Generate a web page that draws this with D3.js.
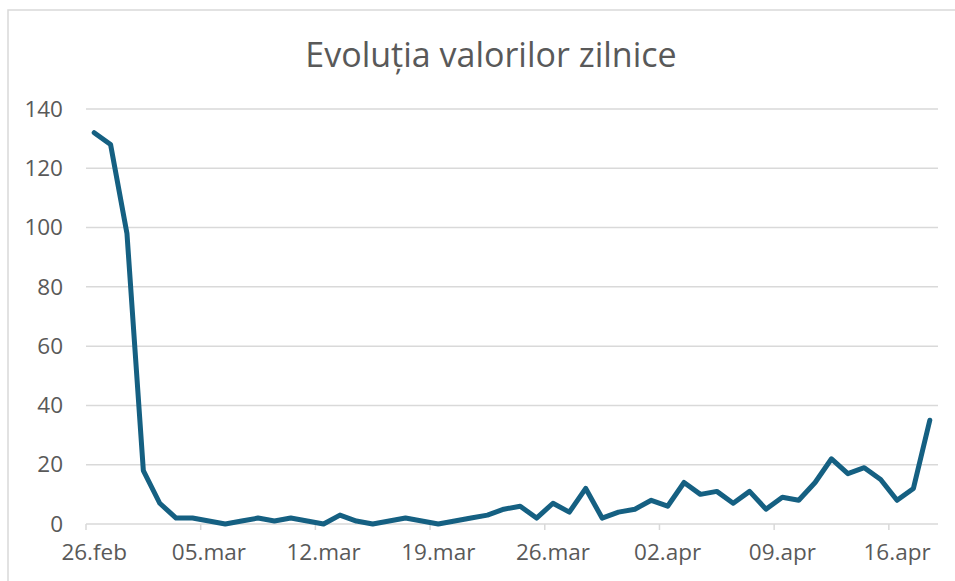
<!DOCTYPE html>
<html>
<head>
<meta charset="utf-8">
<script src="https://cdn.jsdelivr.net/npm/d3@7"></script>
<style>
  body { margin: 0; background: #fff; }
  svg { display: block; }
</style>
</head>
<body>
<div id="chart"></div>
<script>
// daily values, 26.feb - 18.apr
var values = [132, 128, 98, 18, 7, 2, 2, 1, 0, 1, 2, 1, 2, 1, 0, 3, 1, 0, 1, 2,
              1, 0, 1, 2, 3, 5, 6, 2, 7, 4, 12, 2, 4, 5, 8, 6, 14, 10, 11, 7,
              11, 5, 9, 8, 14, 22, 17, 19, 15, 8, 12, 35];
var days = d3.timeDay.range(new Date(2023, 1, 26), new Date(2023, 3, 19));
var tickLabels = ["26.feb", "05.mar", "12.mar", "19.mar", "26.mar", "02.apr", "09.apr", "16.apr"];
var yTicks = [0, 20, 40, 60, 80, 100, 120, 140];
var title = "Evoluția valorilor zilnice";

var width = 955, height = 581;
var margin = {left: 86, right: 17, top: 109, bottom: 57};
var font = "'Open Sans', sans-serif";
var grey = "#d9d9d9", textGrey = "#595959";

var svg = d3.select("#chart").append("svg")
    .attr("width", width)
    .attr("height", height);

// chart border
svg.append("rect")
    .attr("x", 8).attr("y", 10)
    .attr("width", width).attr("height", height)
    .attr("fill", "none")
    .attr("stroke", grey)
    .attr("stroke-width", 1.5);

var x = d3.scaleBand()
    .domain(days.map(function (d, i) { return i; }))
    .range([margin.left, width - margin.right])
    .paddingInner(0).paddingOuter(0);

var y = d3.scaleLinear()
    .domain([0, 140])
    .range([height - margin.bottom, margin.top]);

// gridlines
svg.append("g")
    .selectAll("line")
    .data(yTicks)
    .enter()
    .append("line")
    .attr("x1", margin.left).attr("x2", width - margin.right)
    .attr("y1", function (d) { return y(d); })
    .attr("y2", function (d) { return y(d); })
    .style("stroke", grey)
    .style("stroke-width", 1.5);

// y labels
var yAxis = svg.append("g")
    .attr("transform", "translate(" + (margin.left - 23) + ",0)")
    .call(d3.axisLeft(y).tickValues(yTicks).tickSize(0).tickPadding(0));
yAxis.select(".domain").remove();
yAxis.selectAll("text")
    .style("font-family", font)
    .style("font-size", "22.5px")
    .style("fill", textGrey);

// x axis: tick marks at band edges, labels at band centres
var tickIdx = tickLabels.map(function (d, i) { return i * 7; });

svg.append("g")
    .selectAll("line")
    .data(tickIdx)
    .enter()
    .append("line")
    .attr("x1", function (d) { return x(d); })
    .attr("x2", function (d) { return x(d); })
    .attr("y1", y(0)).attr("y2", y(0) + 6)
    .style("stroke", grey)
    .style("stroke-width", 1.5);

var xAxis = svg.append("g")
    .attr("transform", "translate(0," + y(0) + ")")
    .call(d3.axisBottom(x).tickValues(tickIdx).tickSize(0).tickPadding(20)
        .tickFormat(function (d, i) { return tickLabels[i]; }));
xAxis.select(".domain").remove();
xAxis.selectAll("text")
    .style("font-family", font)
    .style("font-size", "22.5px")
    .style("fill", textGrey);

// data line
var line = d3.line()
    .x(function (d, i) { return x(i) + x.bandwidth() / 2; })
    .y(function (d) { return y(d); });

svg.append("path")
    .datum(values)
    .attr("d", line)
    .attr("fill", "none")
    .style("stroke", "#156082")
    .style("stroke-width", 5)
    .style("stroke-linejoin", "round")
    .style("stroke-linecap", "round");

// title
svg.append("text")
    .attr("x", 491)
    .attr("y", 67)
    .attr("text-anchor", "middle")
    .text(title)
    .style("font-family", font)
    .style("font-size", "34px")
    .style("fill", textGrey);
</script>
</body>
</html>
